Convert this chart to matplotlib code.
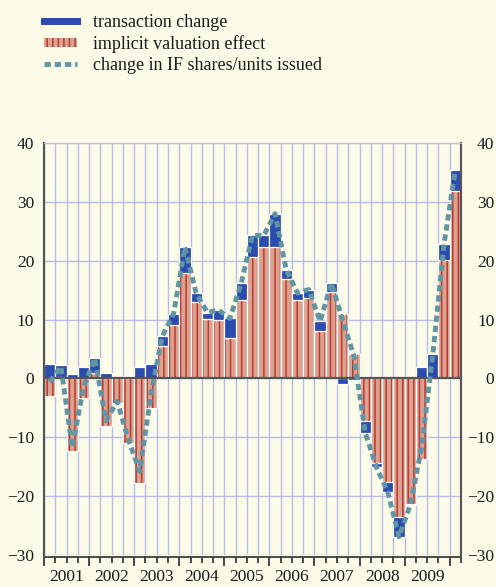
import matplotlib
matplotlib.use("Agg")
import numpy as np
import matplotlib.pyplot as plt
from matplotlib.lines import Line2D
from matplotlib.patches import Patch

# quarterly, 2001 Q1 .. 2010 Q1
valuation = [-3.0, 0.2, -12.3, -3.4, 1.0, -8.1, -4.2, -10.9, -17.7, -5.1,
             5.5, 9.0, 17.9, 13.0, 10.1, 9.9, 6.8, 13.3, 20.6, 22.3,
             22.3, 16.9, 13.4, 13.6, 8.0, 14.7, 10.9, 4.1, -7.2, -14.4,
             -17.6, -23.6, -21.3, -13.7, 0.0, 20.1, 31.9]
transaction = [2.5, 2.1, 0.7, 1.9, 2.4, 1.0, 0.3, 0.45, 1.9, 2.5,
               1.7, 2.0, 4.4, 1.5, 1.1, 1.7, 3.4, 2.9, 3.7, 2.0,
               5.7, 1.5, 1.1, 1.5, 1.7, 1.5, -1.0, -0.3, -2.0, -0.7,
               -1.7, -3.3, -0.2, 1.9, 4.1, 2.8, 3.5]
shares_issued = [-0.6, 2.0, -11.7, -1.6, 3.4, -7.2, -3.9, -10.5, -15.8, -2.6,
                 7.2, 11.0, 22.3, 14.5, 11.2, 11.6, 10.2, 16.2, 24.3, 24.3,
                 28.0, 18.4, 14.5, 15.1, 9.7, 16.2, 9.9, 3.8, -9.2, -15.1,
                 -19.3, -26.9, -21.5, -11.8, 4.1, 22.9, 35.4]
years = ["2001", "2002", "2003", "2004", "2005", "2006", "2007", "2008", "2009"]
y_ticks = [-30, -20, -10, 0, 10, 20, 30, 40]

BG = "#fdfce8"
GRID = "#b7bcee"
BLUE = "#2b4cae"
SALMON = "#dca291"
STRIPE = "#bd3a2c"
TEAL = "#6095a4"
DARK = "#3c3c3c"
TXT = "#1a1a1a"
FONT = "Liberation Serif"


def main():
    plt.rcParams["font.family"] = [FONT, "DejaVu Serif"]
    plt.rcParams["hatch.linewidth"] = 1.1

    fig = plt.figure(figsize=(4.96, 5.87), dpi=100, facecolor=BG)
    rect = [44 / 496, 1 - 555 / 587, 417 / 496, 412 / 587]
    ax = fig.add_axes(rect)
    ax.set_facecolor(BG)

    n = len(valuation)
    x = np.arange(n)
    red = np.array(valuation)
    blue = np.array(transaction)
    # blue sits on top of red when same sign, otherwise starts at zero
    base = np.where(np.sign(red) == np.sign(blue), red, 0.0)

    ax.bar(x, red, width=1.0, color=SALMON, edgecolor="white", linewidth=0.9, zorder=2)
    ax.bar(x, red, width=0.8, facecolor="none", edgecolor=STRIPE, hatch="|||",
           linewidth=0, zorder=2.1)
    ax.bar(x, blue, bottom=base, width=1.0, color=BLUE, edgecolor="white",
           linewidth=0.9, zorder=2.2)
    ax.plot(x, shares_issued, color=TEAL, lw=3.5, dashes=(1.3, 0.8), zorder=4)

    ax.axhline(0, color="#555555", lw=1.6, zorder=3)

    ax.set_xlim(-0.5, n - 0.5)
    ax.set_ylim(-30, 40)

    # quarter boundaries: grid + small tick marks, year boundaries longer
    bounds = np.arange(n + 1) - 0.5
    ax.set_xticks(bounds[::4], labels=[])
    ax.set_xticks(bounds, minor=True)
    ax.tick_params(axis="x", which="major", direction="out", length=6.5, width=1.3,
                   color=DARK)
    ax.tick_params(axis="x", which="minor", direction="out", length=4.5, width=1.3,
                   color=DARK)
    ax.grid(which="both", axis="x", color=GRID, lw=1.0)

    ax.set_yticks(y_ticks)
    ax.grid(which="major", axis="y", color=GRID, lw=1.0)
    ax.tick_params(axis="y", length=0, pad=7, labelsize=12.5, labelcolor=TXT)

    # right-hand labels
    ax2 = ax.twinx()
    ax2.set_ylim(ax.get_ylim())
    ax2.set_yticks(y_ticks)
    ax2.tick_params(axis="y", length=0, pad=24, labelsize=12.5, labelcolor=TXT)
    for lab in ax2.get_yticklabels():
        lab.set_horizontalalignment("right")

    # year labels centred on each year
    ax3 = fig.add_axes(rect, frameon=False)
    ax3.patch.set_visible(False)
    ax3.set_xlim(ax.get_xlim())
    ax3.set_xticks([4 * i + 1.5 for i in range(len(years))], labels=years)
    ax3.tick_params(axis="x", length=0, pad=10, labelsize=12.5, labelcolor=TXT)
    ax3.set_yticks([])

    for a in (ax, ax2):
        a.spines["left"].set_color("#555555")
        a.spines["right"].set_color("#555555")
        a.spines["left"].set_linewidth(1.5)
        a.spines["right"].set_linewidth(1.5)
        a.spines["top"].set_color(GRID)
    ax2.spines["bottom"].set_visible(False)
    ax.spines["bottom"].set_color(DARK)
    ax.spines["bottom"].set_linewidth(1.3)
    ax.spines["bottom"].set_position(("outward", 1.5))

    handles = [
        Line2D([], [], color=BLUE, lw=5),
        Patch(facecolor=SALMON, edgecolor=STRIPE, hatch="|||", linewidth=0),
        Line2D([], [], color=TEAL, lw=3.5, dashes=(1.3, 0.8)),
    ]
    labels = ["transaction change", "implicit valuation effect",
              "change in IF shares/units issued"]
    fig.legend(handles, labels, loc="upper left", bbox_to_anchor=(44 / 496, 1 - 14 / 587),
               frameon=False, fontsize=13, handlelength=1.85, handleheight=0.4,
               handletextpad=0.85, labelspacing=0.22, borderpad=0, borderaxespad=0,
               labelcolor=TXT)

    fig.savefig("out.png", dpi=100, facecolor=BG)


if __name__ == '__main__':
    main()
